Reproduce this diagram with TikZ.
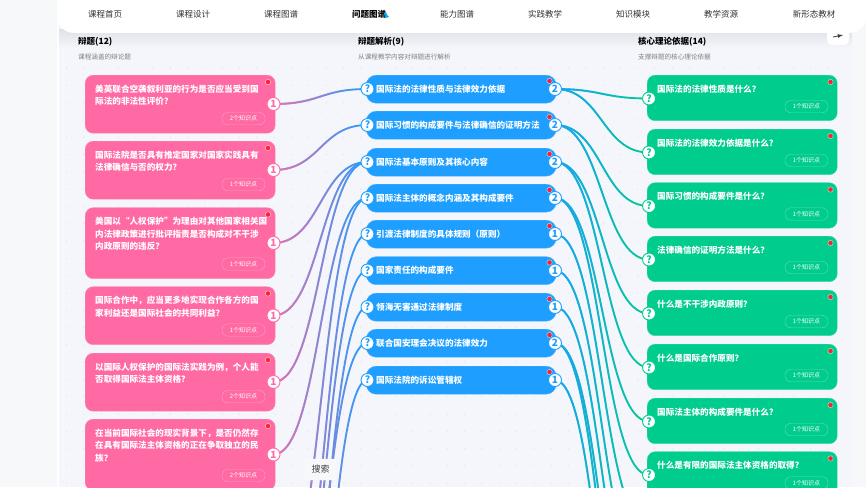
\documentclass[tikz,border=0pt]{standalone}
\usepackage{fontspec}
\setmainfont{Noto Sans CJK SC}
\usetikzlibrary{calc,fadings}
\definecolor{pagegrey}{HTML}{F7F8FA}
\definecolor{panelblue}{HTML}{F4F6FC}
\definecolor{griddot}{HTML}{E6E8F0}
\definecolor{hotpink}{HTML}{FF69A4}
\definecolor{skyblue}{HTML}{1E9FFF}
\definecolor{mintgreen}{HTML}{00CC8E}
\definecolor{reddot}{HTML}{FF2030}
\pgfdeclarelayer{background}
\pgfsetlayers{background,main}
\tikzfading[name=linkfade, left color=transparent!0, middle color=transparent!8, right color=transparent!100]
\tikzset{
	cardtext/.style={text=white, font=\bfseries\fontsize{8.6}{12.5}\selectfont},
	pinkcard/.style={fill=hotpink, draw=hotpink!80!white, line width=0.4pt, rounded corners=8pt, anchor=north west, minimum width=190pt, inner sep=0pt},
	greencard/.style={fill=mintgreen, draw=mintgreen!80!white, line width=0.4pt, rounded corners=8pt, anchor=north west, minimum width=190pt, minimum height=45.5pt, inner sep=0pt},
	bluecard/.style={cardtext, fill=skyblue, draw=skyblue!80!white, line width=0.4pt, rounded corners=10pt, anchor=north west, minimum height=28pt, text width=170pt, inner xsep=10pt, inner ysep=0pt, align=left},
	pill/.style={draw=white!35!#1, line width=0.4pt, rounded corners=6pt, minimum width=43pt, minimum height=12.5pt, inner sep=0pt, text=white, font=\fontsize{6}{7}\selectfont},
	badge/.style={circle, fill=white, draw=#1, line width=0.9pt, minimum size=13pt, inner sep=0pt, text=#1, font=\bfseries\fontsize{10}{10}\selectfont},
	flag/.style={circle, fill=reddot, draw=white!50!#1, line width=0.6pt, minimum size=5.4pt, inner sep=0pt},
	navitem/.style={text=black!80, font=\fontsize{8.5}{10}\selectfont},
	headtitle/.style={anchor=west, text=black, font=\bfseries\fontsize{8.5}{10}\selectfont},
	headnote/.style={anchor=west, text=black!50, font=\fontsize{6.6}{8}\selectfont},
	link/.style={line width=1.8pt, line cap=round}
}
\def\debatecard(#1)(#2:#3)(#4)#5{
	\node[pinkcard, minimum height=#3pt] (#1) at (85, #2) {};
	\node[cardtext, anchor=north west, inner sep=0pt, align=left] (#1text) at (95, #2+9.5) {#5};
	\node[pill=hotpink] (#1pill) at (243.5, #2+#3-14.5) {#4个知识点};
	\node[flag=hotpink] (#1flag) at (268, #2+7) {};
	\node[badge=hotpink] (#1num) at (273.5, #2+#3/2) {1};
}
\def\topiccard(#1)(#2)(#3)#4{
	\node[bluecard] (#1) at (366, #2) {#4};
	\node[flag=skyblue] (#1flag) at (549.5, #2+6) {};
	\node[badge=skyblue] (#1ask) at (367.5, #2+14) {?};
	\node[badge=skyblue] (#1num) at (555, #2+14) {#3};
}
\def\theorycard(#1)(#2)#3{
	\node[greencard] (#1) at (647, #2) {};
	\node[cardtext, anchor=north west, inner sep=0pt] (#1text) at (657, #2+9.5) {#3};
	\node[pill=mintgreen] (#1pill) at (806.5, #2+31.5) {1个知识点};
	\node[flag=mintgreen] (#1flag) at (830.5, #2+7) {};
	\node[badge=mintgreen] (#1ask) at (649, #2+23.5) {?};
}
\def\curve(#1)(#2){(#1.center) .. controls ($(#1.center)+(47,0)$) and ($(#2.center)-(47,0)$) .. (#2.center)}
\def\pinklink(#1)(#2){
	\begin{pgfonlayer}{background}
		\draw[link, skyblue] \curve(#1)(#2);
		\draw[link, hotpink, path fading=linkfade] \curve(#1)(#2);
	\end{pgfonlayer}
}
\def\greenlink(#1)(#2){
	\begin{pgfonlayer}{background}
		\draw[link, mintgreen] \curve(#1)(#2);
		\draw[link, skyblue, path fading=linkfade] \curve(#1)(#2);
	\end{pgfonlayer}
}

\begin{document}
\begin{tikzpicture}[x=1pt, y=-1pt]
		\useasboundingbox (0, 0) rectangle (866, 487);
		
		%%%%% BACKDROP %%%%%
		
		\begin{pgfonlayer}{background}
			\fill[pagegrey] (0, 0) rectangle (866, 487);
			\fill[white] (57, 0) rectangle (59, 487);
			\fill[panelblue] (59, 0) rectangle (852, 487);
			\shade[top color=black!8!panelblue, bottom color=panelblue] (59, 30) rectangle (852, 48);
			\foreach \i in {0,...,44}
				\foreach \j in {0,...,24}
					\fill[griddot] (66.7+17.3*\i, 68+17.3*\j) circle (0.8);
		\end{pgfonlayer}
		
		%%%%% TOP BAR %%%%%
		
		\node[fill=white, rounded corners=5pt, minimum width=22pt, minimum height=24pt, inner sep=0pt] (turnbox) at (838, 33) {};
		\draw[black!75, line width=0.8pt, -latex] (833, 37) -- (843, 35);
		\node[fill=white, rounded corners=16pt, anchor=south west, minimum width=809pt, minimum height=60pt, inner sep=0pt] (topbar) at (57, 33) {};
		\node[navitem] (nav1) at (105, 14) {课程首页};
		\node[navitem] (nav2) at (193, 14) {课程设计};
		\node[navitem] (nav3) at (281, 14) {课程图谱};
		\node[navitem, text=black, font=\bfseries\fontsize{8.5}{10}\selectfont] (nav4) at (369, 14) {问题图谱};
		\fill[cyan] (384, 13) -- (386, 12) -- (387, 15) -- (389, 17) -- (385, 18) -- cycle;
		\node[navitem] (nav5) at (457, 14) {能力图谱};
		\node[navitem] (nav6) at (545, 14) {实践教学};
		\node[navitem] (nav7) at (633, 14) {知识模块};
		\node[navitem] (nav8) at (721, 14) {教学资源};
		\node[navitem] (nav9) at (814, 14) {新形态教材};
		
		\node[headtitle, inner sep=0pt] (debatehead) at (78, 42) {辩题(12)};
		\node[headnote, inner sep=0pt] (debatenote) at (78, 56.5) {课程涵盖的辩论题};
		\node[headtitle, inner sep=0pt] (topichead) at (358, 42) {辩题解析(9)};
		\node[headnote, inner sep=0pt] (topicnote) at (358, 56.5) {从课程教学内容对辩题进行解析};
		\node[headtitle, inner sep=0pt] (theoryhead) at (638, 42) {核心理论依据(14)};
		\node[headnote, inner sep=0pt] (theorynote) at (638, 56.5) {支撑辩题的核心理论依据};
		
		%%%%% LEFT COLUMN %%%%%
		
		\debatecard(debate1)(75:58)(2){美英联合空袭叙利亚的行为是否应当受到国\\际法的非法性评价？}
		\debatecard(debate2)(141:58)(1){国际法院是否具有推定国家对国家实践具有\\法律确信与否的权力？}
		\debatecard(debate3)(207.5:71)(1){美国以“人权保护”为理由对其他国家相关国\\内法律政策进行批评指责是否构成对不干涉\\内政原则的违反？}
		\debatecard(debate4)(286.5:58)(1){国际合作中，应当更多地实现合作各方的国\\家利益还是国际社会的共同利益？}
		\debatecard(debate5)(353:58)(2){以国际人权保护的国际法实践为例，个人能\\否取得国际法主体资格？}
		\debatecard(debate6)(419:71)(2){在当前国际社会的现实背景下，是否仍然存\\在具有国际法主体资格的正在争取独立的民\\族？}
		
		\coordinate (debate7num) at (273, 617);
		\coordinate (debate8num) at (273, 740);
		\coordinate (debate9num) at (273, 781);
		\coordinate (debate10num) at (273, 887);
		\coordinate (debate11num) at (273, 806);
		\coordinate (debate12num) at (273, 1022);
		
		%%%%% MIDDLE COLUMN %%%%%
		
		\topiccard(topic1)(75)(2){国际法的法律性质与法律效力依据}
		\topiccard(topic2)(111)(2){国际习惯的构成要件与法律确信的证明方法}
		\topiccard(topic3)(148)(2){国际法基本原则及其核心内容}
		\topiccard(topic4)(184)(2){国际法主体的概念内涵及其构成要件}
		\topiccard(topic5)(220)(1){引渡法律制度的具体规则（原则）}
		\topiccard(topic6)(256.5)(1){国家责任的构成要件}
		\topiccard(topic7)(293)(1){领海无害通过法律制度}
		\topiccard(topic8)(329)(2){联合国安理会决议的法律效力}
		\topiccard(topic9)(366)(1){国际法院的诉讼管辖权}
		
		%%%%% RIGHT COLUMN %%%%%
		
		\theorycard(theory1)(75){国际法的法律性质是什么？}
		\theorycard(theory2)(129){国际法的法律效力依据是什么？}
		\theorycard(theory3)(182.5){国际习惯的构成要件是什么？}
		\theorycard(theory4)(236){法律确信的证明方法是什么？}
		\theorycard(theory5)(290){什么是不干涉内政原则？}
		\theorycard(theory6)(344){什么是国际合作原则？}
		\theorycard(theory7)(398){国际法主体的构成要件是什么？}
		\theorycard(theory8)(451.5){什么是有限的国际法主体资格的取得？}
		
		\coordinate (theory9ask) at (649, 528);
		\coordinate (theory10ask) at (649, 582);
		\coordinate (theory11ask) at (649, 636);
		\coordinate (theory12ask) at (649, 690);
		\coordinate (theory13ask) at (649, 744);
		\coordinate (theory14ask) at (649, 798);
		
		%%%%% LINKS %%%%%
		
		\pinklink(debate1num)(topic1ask)
		\pinklink(debate2num)(topic2ask)
		\pinklink(debate3num)(topic3ask)
		\pinklink(debate4num)(topic3ask)
		\pinklink(debate5num)(topic3ask)
		\pinklink(debate6num)(topic4ask)
		\pinklink(debate7num)(topic4ask)
		\pinklink(debate8num)(topic5ask)
		\pinklink(debate9num)(topic6ask)
		\pinklink(debate10num)(topic7ask)
		\pinklink(debate11num)(topic8ask)
		\pinklink(debate12num)(topic9ask)
		
		\greenlink(topic1num)(theory1ask)
		\greenlink(topic1num)(theory2ask)
		\greenlink(topic2num)(theory3ask)
		\greenlink(topic2num)(theory4ask)
		\greenlink(topic3num)(theory5ask)
		\greenlink(topic3num)(theory6ask)
		\greenlink(topic4num)(theory7ask)
		\greenlink(topic4num)(theory8ask)
		\greenlink(topic5num)(theory9ask)
		\greenlink(topic6num)(theory10ask)
		\greenlink(topic7num)(theory11ask)
		\greenlink(topic8num)(theory12ask)
		\greenlink(topic8num)(theory13ask)
		\greenlink(topic9num)(theory14ask)
		
		%%%%% SEARCH TIP %%%%%
		
		\node[fill=pagegrey, draw=white, rounded corners=3pt, minimum width=31pt, minimum height=21pt, inner sep=0pt, text=black!75, font=\fontsize{9}{10}\selectfont] (searchtip) at (320.5, 469.5) {搜索};
	\end{tikzpicture}
\end{document}
